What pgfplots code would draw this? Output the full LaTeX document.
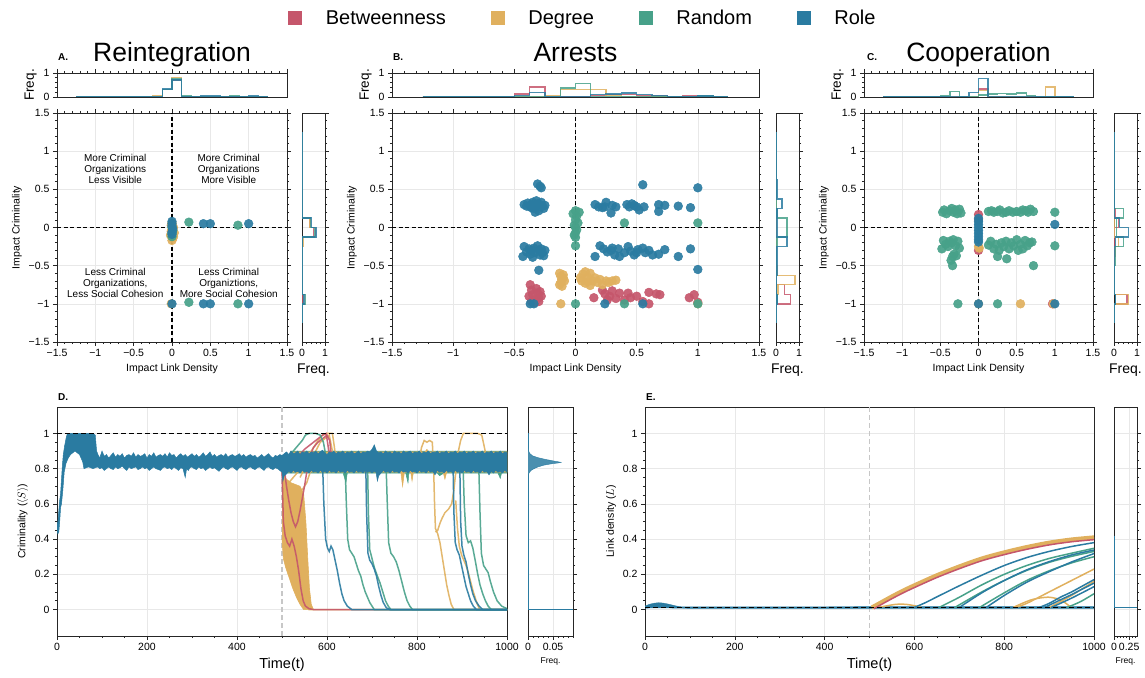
\documentclass[border=0pt]{standalone}
\usepackage{pgfplots}
\pgfplotsset{compat=1.18}
\usepackage{fontspec}
\setmainfont{Liberation Sans}
\definecolor{cB}{HTML}{C5566B}
\definecolor{cD}{HTML}{E0B05E}
\definecolor{cR}{HTML}{47A189}
\definecolor{cO}{HTML}{2A7BA1}
\newcommand{\fs}[1]{\fontsize{#1}{#1}\selectfont}
\pgfplotsset{
  base/.style={scale only axis, axis line style={black!85, line width=0.8pt},
    every tick/.style={black!85, line width=0.6pt}, major tick length=4pt, minor tick length=2.2pt,
    tick align=outside, tick label style={font=\fs{10.5}},
    label style={font=\fs{10.5}}, grid style={black!9, line width=0.6pt},
    scaled ticks=false, /pgf/number format/assume math mode=true},
  sc/.style={base, width=#1, height=229pt, xmin=-1.5,xmax=1.5,ymin=-1.5,ymax=1.5,
    xtick={-1.5,-1,-0.5,0,0.5,1,1.5}, ytick={-1.5,-1,-0.5,0,0.5,1,1.5},
    xticklabels={−1.5,−1,−0.5,0,0.5,1,1.5}, yticklabels={−1.5,−1,−0.5,0,0.5,1,1.5},
    minor x tick num=4, minor y tick num=4, tick pos=both, xmajorgrids, ymajorgrids,
    xlabel={Impact Link Density}, ylabel={Impact Criminality}},
  mt/.style={base, width=#1, height=24pt, xmin=-1.5,xmax=1.5,ymin=0,ymax=1,
    xtick={-1.5,-1,-0.5,0,0.5,1,1.5}, xticklabels={}, minor x tick num=4, xtick pos=right,
    ytick={0,1}, yticklabels={0,1}, minor y tick num=4, ytick pos=left,
    ylabel={Freq.}, ylabel style={font=\fs{13.5}}},
  mr/.style={base, width=23pt, height=229pt, xmin=0,xmax=1,ymin=-1.5,ymax=1.5,
    xtick={0,1}, xticklabels={0,1}, minor x tick num=4, xtick pos=left,
    ytick={-1.5,-1,-0.5,0,0.5,1,1.5}, yticklabels={}, minor y tick num=4, ytick pos=right, ymajorgrids,
    xlabel={Freq.}, xlabel style={font=\fs{14}}},
  ts/.style={base, width=#1, height=229pt, xmin=0,xmax=1000,ymin=-0.15,ymax=1.15,
    xtick={0,200,400,600,800,1000}, xticklabels={0,200,400,600,800,1000}, minor x tick num=3,
    ytick={0,0.2,0.4,0.6,0.8,1}, yticklabels={0,0.2,0.4,0.6,0.8,1}, minor y tick num=3,
    tick pos=left, xmajorgrids, ymajorgrids, xlabel={Time(t)}, xlabel style={font=\fs{14.5}}},
  tm/.style={base, width=#1, height=229pt, ymin=-0.15,ymax=1.15, xmin=0,
    ytick={0,0.2,0.4,0.6,0.8,1}, yticklabels={}, minor y tick num=3, ytick pos=right, xtick pos=left,
    minor x tick num=4, xmajorgrids, ymajorgrids, xlabel={Freq.}, xlabel style={font=\fs{8.5}}},
  dots/.style={only marks, mark=*, color=#1, mark size=4.4pt, mark options={draw=none, fill=#1, fill opacity=0.92}},
  hs/.style={color=#1, draw opacity=0.85, line width=1.4pt, const plot},
  hv/.style={color=#1, draw opacity=0.85, line width=1.4pt},
  zl/.style={black, line width=1.1pt, dash pattern=on 4pt off 2.5pt},
  ln/.style={color=#1, line width=1.5pt, draw opacity=0.9},
  cv/.style={color=#1, line width=1.5pt, smooth},
}
\begin{document}
\begin{tikzpicture}
\path[use as bounding box] (0pt,0pt) rectangle (1145pt,677pt);
% titles and panel letters
\node[font=\fs{26.5}, anchor=base] at (172pt,615pt) {Reintegration};
\node[font=\fs{26.5}, anchor=base] at (575.5pt,615pt) {Arrests};
\node[font=\fs{26.5}, anchor=base] at (978.5pt,615pt) {Cooperation};
\node[font=\bfseries\fs{10}, anchor=base west, inner sep=0pt] at (58pt,616pt) {A.};
\node[font=\bfseries\fs{10}, anchor=base west, inner sep=0pt] at (393pt,616pt) {B.};
\node[font=\bfseries\fs{10}, anchor=base west, inner sep=0pt] at (867pt,616pt) {C.};
\node[font=\bfseries\fs{10}, anchor=base west, inner sep=0pt] at (58pt,276pt) {D.};
\node[font=\bfseries\fs{10}, anchor=base west, inner sep=0pt] at (646pt,276pt) {E.};

%================ A =================
\begin{axis}[sc=230pt, at={(57pt,335pt)}, anchor=south west]
\addplot[zl] coordinates {(-1.5,0) (1.5,0)};
\addplot[zl] coordinates {(0,-1.5) (0,1.5)};
\addplot[dots=cB] coordinates {(0,0.02) (0,-0.05)};
\addplot[dots=cD] coordinates {(0,0.06) (-0.01,0.03) (0.02,0) (0,-0.03) (0.03,-0.07) (-0.02,-0.1) (0.01,-0.14) (0,-0.17) (0.02,-0.12) (-0.01,-0.05) (-0.01,-1)};
\addplot[dots=cR] coordinates {(0,0) (0.01,-0.04) (0,-0.12) (0,-0.08) (0.22,0.07) (0.86,0.03) (0.22,-0.98) (0.86,-1)};
\addplot[dots=cO] coordinates {(0,0.08) (0,0.05) (0,0.02) (0.01,-0.02) (0,-0.06) (0,-0.09) (0.41,0.05) (0.5,0.05) (1,0.05) (0,-1) (0.41,-1) (0.5,-1) (1,-1)};
\node[font=\fontsize{10}{11}\selectfont, align=center] at (axis cs:-0.74,0.77) {More Criminal\\Organizations\\Less Visible};
\node[font=\fontsize{10}{11}\selectfont, align=center] at (axis cs:0.74,0.77) {More Criminal\\Organizations\\More Visible};
\node[font=\fontsize{10}{11}\selectfont, align=center] at (axis cs:-0.74,-0.73) {Less Criminal\\Organizations,\\Less Social Cohesion};
\node[font=\fontsize{10}{11}\selectfont, align=center] at (axis cs:0.74,-0.73) {Less Criminal\\Organiztions,\\More Social Cohesion};
\end{axis}
\begin{axis}[mt=230pt, at={(57pt,580pt)}, anchor=south west]
\addplot[hs=cB] coordinates {(-1.25,0) (-0.125,0.3) (0,0.7) (0.125,0) (1.25,0)};
\addplot[hs=cD] coordinates {(-1.25,0) (-0.25,0.04) (-0.125,0.3) (0,0.82) (0.125,0) (1.25,0)};
\addplot[hs=cR] coordinates {(-1.25,0) (-0.125,0.3) (0,0.75) (0.125,0.04) (0.25,0) (0.75,0.04) (0.875,0) (1.25,0)};
\addplot[hs=cO] coordinates {(-1.25,0) (-0.125,0.34) (0,0.7) (0.125,0) (0.375,0.04) (0.625,0) (1,0.04) (1.125,0) (1.25,0)};
\end{axis}
\begin{axis}[mr, at={(302pt,335pt)}, anchor=south west]
\addplot[hv=cB] coordinates {(0,-1.25) (0,-0.125) (0.5,-0.125) (0.5,0) (0.35,0) (0.35,0.125) (0,0.125) (0,1.25)};
\addplot[hv=cD] coordinates {(0,-1.25) (0,-1) (0.06,-1) (0.06,-0.875) (0,-0.875) (0,-0.25) (0.05,-0.25) (0.05,-0.125) (0.58,-0.125) (0.58,0) (0.33,0) (0.33,0.125) (0,0.125) (0,1.25)};
\addplot[hv=cR] coordinates {(0,-1.25) (0,-1) (0.14,-1) (0.14,-0.875) (0,-0.875) (0,-0.125) (0.55,-0.125) (0.55,0) (0.38,0) (0.38,0.125) (0,0.125) (0,1.25)};
\addplot[hv=cO] coordinates {(0,-1.25) (0,-1) (0.09,-1) (0.09,-0.875) (0,-0.875) (0,-0.125) (0.6,-0.125) (0.6,0) (0.41,0) (0.41,0.125) (0,0.125) (0,1.25)};
\end{axis}

%================ B =================
\begin{axis}[sc=367pt, at={(392pt,335pt)}, anchor=south west,
  legend style={at={(0.5177,1.4148)}, anchor=center, draw=none, fill=none, font=\fs{20},
    nodes={inner sep=0pt},
    /tikz/every even column/.append style={column sep=45pt},
    /tikz/every odd column/.append style={column sep=24pt}},
  legend columns=4, legend cell align=left]
\addlegendimage{legend image code/.code={\fill[cB] (0pt,-6.5pt) rectangle (13pt,6.5pt);}}
\addlegendentry{Betweenness}
\addlegendimage{legend image code/.code={\fill[cD] (0pt,-6.5pt) rectangle (13pt,6.5pt);}}
\addlegendentry{Degree}
\addlegendimage{legend image code/.code={\fill[cR] (0pt,-6.5pt) rectangle (13pt,6.5pt);}}
\addlegendentry{Random}
\addlegendimage{legend image code/.code={\fill[cO] (0pt,-6.5pt) rectangle (13pt,6.5pt);}}
\addlegendentry{Role}
\addplot[zl, forget plot] coordinates {(-1.5,0) (1.5,0)};
\addplot[zl, forget plot] coordinates {(0,-1.5) (0,1.5)};
\addplot[dots=cB, forget plot] coordinates {(-0.37,-0.75) (-0.36,-0.82) (-0.35,-0.88) (-0.38,-0.9) (-0.34,-0.95) (-0.32,-0.8) (-0.31,-0.86) (-0.3,-0.92) (-0.29,-0.84) (-0.28,-0.9) (-0.33,-0.98) (-0.36,-0.97) (-0.3,-0.97)
 (0.15,-0.92) (0.22,-0.82) (0.24,-0.87) (0.26,-0.95) (0.28,-0.9) (0.3,-0.83) (0.33,-0.93) (0.36,-0.86) (0.4,-0.95) (0.43,-0.86) (0.45,-0.92) (0.5,-0.9) (0.55,-0.97) (0.6,-0.85) (0.6,-1) (0.66,-0.87) (0.69,-0.88) (0.93,-0.92) (0.97,-0.88) (1,-0.98)};
\addplot[dots=cD, forget plot] coordinates {(-0.13,-0.6) (-0.12,-0.64) (-0.11,-0.68) (-0.12,-0.72) (-0.1,-0.66) (-0.09,-0.7) (-0.13,-0.75) (-0.11,-0.77) (-0.1,-0.62)
 (0.06,-0.61) (0.08,-0.58) (0.1,-0.65) (0.12,-0.6) (0.14,-0.7) (0.05,-0.7) (0.08,-0.73) (0.16,-0.66) (0.18,-0.72) (0.2,-0.68) (0.22,-0.75) (0.25,-0.7) (0.27,-0.72) (0.3,-0.7) (0.33,-0.69) (0.12,-0.76) (0.04,-0.66) (0.1,-0.71) (-0.12,-1) (1,-1)};
\addplot[dots=cR, forget plot] coordinates {(0,0.22) (0.03,0.2) (-0.02,0.18) (0.01,0.15) (0,0.1) (0.02,0.06) (-0.01,0.03) (0,0) (0.01,-0.03) (0,-0.07) (-0.01,-0.1) (0,-0.13) (0,-0.24) (0.4,0.06) (1,0.06) (0,-1) (0.4,-1) (1,-1)};
\addplot[dots=cO, forget plot] coordinates {(-0.42,0.3) (-0.4,0.28) (-0.39,0.32) (-0.37,0.27) (-0.36,0.3) (-0.35,0.33) (-0.34,0.25) (-0.33,0.29) (-0.32,0.35) (-0.31,0.31) (-0.3,0.27) (-0.3,0.22) (-0.29,0.3) (-0.28,0.33) (-0.27,0.28) (-0.26,0.25) (-0.25,0.29) (-0.33,0.2) (-0.36,0.26) (-0.31,0.57) (-0.29,0.54) (-0.28,0.52)
 (0.16,0.3) (0.19,0.27) (0.22,0.26) (0.25,0.33) (0.24,0.27) (0.29,0.19) (0.3,0.29) (0.33,0.27) (0.42,0.3) (0.44,0.27) (0.46,0.31) (0.48,0.29) (0.5,0.27) (0.52,0.23) (0.56,0.27) (0.68,0.3) (0.68,0.21) (0.73,0.29) (0.84,0.28) (0.94,0.26) (0.55,0.56) (1,0.52)
 (-0.43,-0.38) (-0.42,-0.25) (-0.4,-0.32) (-0.38,-0.28) (-0.37,-0.35) (-0.36,-0.3) (-0.35,-0.39) (-0.34,-0.27) (-0.33,-0.33) (-0.31,-0.24) (-0.3,-0.3) (-0.29,-0.36) (-0.28,-0.28) (-0.27,-0.33) (-0.25,-0.3) (-0.26,-0.37) (-0.3,-0.56)
 (0.16,-0.38) (0.2,-0.24) (0.23,-0.28) (0.26,-0.32) (0.29,-0.3) (0.32,-0.36) (0.35,-0.28) (0.36,-0.38) (0.43,-0.25) (0.45,-0.31) (0.48,-0.36) (0.51,-0.29) (0.55,-0.27) (0.57,-0.33) (0.6,-0.3) (0.63,-0.36) (0.68,-0.35) (0.73,-0.29) (0.84,-0.38) (0.94,-0.28) (1,-0.55) (0.5,-0.33) (0.4,-0.33) (0.3,-0.27)
 (-0.37,-1) (-0.34,-1) (0.24,-1) (0.55,-1)};
\end{axis}
\begin{axis}[mt=367pt, at={(392pt,580pt)}, anchor=south west]
\addplot[hs=cB] coordinates {(-1.25,0) (-0.5,0.12) (-0.375,0.41) (-0.25,0) (0.125,0.05) (0.25,0.1) (0.5,0.05) (0.75,0) (0.875,0.05) (1,0.03) (1.125,0) (1.25,0)};
\addplot[hs=cD] coordinates {(-1.25,0) (-0.25,0.07) (-0.125,0.3) (0,0.3) (0.125,0.3) (0.25,0.07) (0.375,0) (1,0.02) (1.125,0) (1.25,0)};
\addplot[hs=cR] coordinates {(-1.25,0) (-0.125,0.37) (0,0.56) (0.125,0) (0.375,0.03) (0.5,0) (1,0.04) (1.125,0) (1.25,0)};
\addplot[hs=cO] coordinates {(-1.25,0) (-0.5,0.05) (-0.375,0.19) (-0.25,0) (0.125,0.1) (0.25,0.12) (0.375,0.17) (0.5,0.1) (0.625,0.05) (0.75,0.03) (0.875,0.02) (1,0.04) (1.125,0) (1.25,0)};
\end{axis}
\begin{axis}[mr, at={(776pt,335pt)}, anchor=south west]
\addplot[hv=cB] coordinates {(0,-1.25) (0,-1) (0.64,-1) (0.64,-0.875) (0.36,-0.875) (0.36,-0.75) (0,-0.75) (0,1.25)};
\addplot[hv=cD] coordinates {(0,-1.25) (0,-1) (0.05,-1) (0.05,-0.875) (0.08,-0.875) (0.08,-0.75) (0.83,-0.75) (0.83,-0.625) (0.05,-0.625) (0.05,-0.5) (0,-0.5) (0,1.25)};
\addplot[hv=cR] coordinates {(0,-1.25) (0,-1) (0.05,-1) (0.05,-0.875) (0,-0.875) (0,-0.25) (0.05,-0.25) (0.05,-0.125) (0.47,-0.125) (0.47,0.125) (0.05,0.125) (0.05,0.25) (0,0.25) (0,1.25)};
\addplot[hv=cO] coordinates {(0,-1.25) (0,-1) (0.05,-1) (0.05,-0.875) (0,-0.875) (0,-0.625) (0.05,-0.625) (0.05,-0.25) (0.47,-0.25) (0.47,-0.125) (0.05,-0.125) (0.05,0.25) (0.26,0.25) (0.26,0.375) (0.04,0.375) (0.04,0.625) (0,0.625) (0,1.25)};
\end{axis}

%================ C =================
\begin{axis}[sc=229pt, at={(864pt,335pt)}, anchor=south west]
\addplot[zl] coordinates {(-1.5,0) (1.5,0)};
\addplot[zl] coordinates {(0,-1.5) (0,1.5)};
\addplot[dots=cB] coordinates {(0,0.17) (0,0.1) (0,-0.3) (0.97,-1)};
\addplot[dots=cD] coordinates {(0,-0.25) (0.01,-0.27) (0,-1) (0.55,-1) (0.98,-1)};
\addplot[dots=cR] coordinates {(-0.47,0.2) (-0.45,0.23) (-0.42,0.18) (-0.38,0.22) (-0.35,0.25) (-0.33,0.2) (-0.3,0.23) (-0.28,0.18) (-0.25,0.24) (-0.23,0.19)
 (0.13,0.21) (0.17,0.22) (0.2,0.2) (0.25,0.21) (0.28,0.23) (0.32,0.19) (0.36,0.2) (0.4,0.22) (0.45,0.2) (0.5,0.21) (0.55,0.2) (0.58,0.23) (0.62,0.22) (0.65,0.2) (0.68,0.24) (0.72,0.21) (1,0.2)
 (-0.48,-0.28) (-0.46,-0.17) (-0.43,-0.22) (-0.4,-0.25) (-0.38,-0.18) (-0.35,-0.2) (-0.33,-0.16) (-0.3,-0.24) (-0.27,-0.18) (-0.25,-0.27) (-0.36,-0.43) (-0.34,-0.38) (-0.32,-0.35) (-0.29,-0.37) (-0.34,-0.5)
 (0.13,-0.23) (0.16,-0.18) (0.2,-0.28) (0.23,-0.22) (0.25,-0.38) (0.27,-0.3) (0.3,-0.2) (0.33,-0.25) (0.36,-0.18) (0.37,-0.41) (0.4,-0.28) (0.43,-0.2) (0.46,-0.24) (0.5,-0.16) (0.52,-0.3) (0.55,-0.22) (0.58,-0.28) (0.61,-0.17) (0.64,-0.24) (0.67,-0.2) (0.7,-0.19) (0.72,-0.5) (1,-0.24)
 (-0.27,-1) (0.25,-1)};
\addplot[dots=cO] coordinates {(0,0.12) (0,0.08) (0,0.04) (0,0) (0,-0.04) (0,-0.08) (0,-0.12) (0,-0.16) (0,-0.19) (1,0.04) (0,-1) (1,-1)};
\end{axis}
\begin{axis}[mt=229pt, at={(864pt,580pt)}, anchor=south west]
\addplot[hs=cB] coordinates {(-1.25,0) (0,0.34) (0.125,0) (0.875,0.03) (1,0) (1.25,0)};
\addplot[hs=cD] coordinates {(-1.25,0) (0,0.28) (0.125,0) (0.5,0.03) (0.625,0) (0.875,0.41) (1,0) (1.25,0)};
\addplot[hs=cR] coordinates {(-1.25,0) (-0.5,0.04) (-0.375,0.24) (-0.25,0.03) (-0.125,0) (0,0.08) (0.125,0.12) (0.25,0.15) (0.375,0.12) (0.5,0.17) (0.625,0.07) (0.75,0) (0.875,0.03) (1,0) (1.25,0)};
\addplot[hs=cO] coordinates {(-1.25,0) (-0.125,0.19) (0,0.78) (0.125,0) (1,0.03) (1.125,0) (1.25,0)};
\end{axis}
\begin{axis}[mr, at={(1114pt,335pt)}, anchor=south west]
\addplot[hv=cB] coordinates {(0,-1.25) (0,-1) (0.56,-1) (0.56,-0.875) (0,-0.875) (0,-0.375) (0.04,-0.375) (0.04,-0.25) (0,-0.25) (0,0) (0.2,0) (0.2,0.125) (0.05,0.125) (0.05,0.25) (0,0.25) (0,1.25)};
\addplot[hv=cD] coordinates {(0,-1.25) (0,-1) (0.64,-1) (0.64,-0.875) (0,-0.875) (0,-0.25) (0.2,-0.25) (0.2,-0.125) (0,-0.125) (0,1.25)};
\addplot[hv=cR] coordinates {(0,-1.25) (0,-1) (0.07,-1) (0.07,-0.875) (0,-0.875) (0,-0.5) (0.06,-0.5) (0.06,-0.25) (0.42,-0.25) (0.42,-0.125) (0.1,-0.125) (0.1,0.125) (0.42,0.125) (0.42,0.25) (0,0.25) (0,1.25)};
\addplot[hv=cO] coordinates {(0,-1.25) (0,-1) (0.06,-1) (0.06,-0.875) (0,-0.875) (0,-0.25) (0.06,-0.25) (0.06,-0.125) (0.64,-0.125) (0.64,0) (0.25,0) (0.25,0.125) (0,0.125) (0,1.25)};
\end{axis}

%================ D =================
\begin{axis}[ts=450pt, at={(57pt,41pt)}, anchor=south west, ylabel={Criminality ($\langle S\rangle$)}]
\addplot[black!22, line width=1.1pt, dash pattern=on 5pt off 3pt] coordinates {(500,-0.15) (500,1.15)};
% background bands post-intervention
\addplot[fill=cR, draw=cR, line width=0.5pt] coordinates {(500,0.8) (520,0.9) (1000,0.9)
 (1000,0.775) (988,0.775) (985,0.745) (980,0.775) (860,0.775) (850,0.76) (845,0.775) (782,0.775) (780,0.72) (775,0.775) (645,0.775) (642,0.72) (636,0.775) (510,0.775)};
\addplot[fill=cD, draw=cD, line width=0.5pt] coordinates {(500,0.8) (520,0.895) (818,0.895) (822,0.91) (826,0.895) (1000,0.895)
 (1000,0.78) (866,0.78) (862,0.74) (858,0.78) (792,0.78) (789,0.73) (786,0.78) (772,0.78) (768,0.7) (764,0.78) (510,0.78)};
% Degree trajectories
\addplot[fill=cD, draw=cD, line width=0.6pt] coordinates {(500,0.78) (510,0.74) (520,0.72) (530,0.71) (540,0.7) (548,0.66) (553,0.5) (557,0.3) (561,0.12) (565,0.03) (570,0) (548,0) (540,0.03) (532,0.07) (524,0.12) (516,0.18) (508,0.24) (503,0.29) (500,0.4)};
\addplot[ln=cD] coordinates {(500,0.8) (505,0.7) (515,0.65) (525,0.6) (535,0.5) (545,0.3) (552,0.1) (560,0) (1000,0)};
\addplot[ln=cD] coordinates {(505,0.74) (515,0.72) (525,0.75) (535,0.78) (545,0.8) (555,0.83)};
\addplot[ln=cD] coordinates {(540,0.75) (550,0.8) (560,0.88) (570,0.92) (580,0.96) (590,0.99) (600,1) (612,1) (616,0.93) (620,0.85)};
\addplot[ln=cD] coordinates {(545,0.68) (555,0.72) (565,0.8) (575,0.9) (585,0.95) (595,0.97) (605,0.99) (612,0.9) (618,0.84)};
\addplot[ln=cD] coordinates {(806,0.86) (810,0.92) (816,0.96) (822,0.95) (828,0.96) (834,0.95) (837,0.8) (839,0.6) (841,0.46) (846,0.43) (851,0.38) (856,0.3) (861,0.22) (866,0.14) (871,0.08) (876,0.03) (882,0) (1000,0)};
\addplot[ln=cD] coordinates {(841,0.44) (846,0.45) (851,0.49) (856,0.52) (862,0.55) (870,0.57) (877,0.6) (882,0.68) (887,0.8) (892,0.9) (897,0.96) (903,1) (915,1) (925,1) (935,1) (944,0.99) (949,0.93) (954,0.87) (960,0.84)};
\addplot[ln=cD] coordinates {(886,0.62) (890,0.46) (894,0.36) (899,0.31) (904,0.28) (909,0.25) (914,0.21) (919,0.16) (924,0.11) (929,0.07) (934,0.03) (940,0) (1000,0)};
% Betweenness
\addplot[ln=cB] coordinates {(505,0.8) (510,0.7) (515,0.62) (520,0.55) (525,0.5) (530,0.47) (535,0.5) (540,0.56) (545,0.63) (550,0.7) (555,0.78) (560,0.86) (570,0.92) (580,0.95) (590,0.97) (600,0.99) (606,0.96) (610,0.86) (615,0.83)};
\addplot[ln=cB] coordinates {(500,0.8) (503,0.5) (507,0.42) (512,0.38) (517,0.36) (522,0.4) (527,0.36) (532,0.3) (537,0.22) (542,0.12) (547,0.05) (552,0.02) (560,0.005) (570,0) (1000,0)};
\addplot[ln=cB] coordinates {(512,0.84) (520,0.8) (530,0.84) (540,0.88) (550,0.91) (560,0.93) (570,0.95) (580,0.97) (590,0.99) (598,1) (603,0.92) (608,0.85)};
% Random
\addplot[ln=cR] coordinates {(515,0.86) (525,0.9) (535,0.93) (545,0.96) (552,0.99) (560,1) (575,1) (585,0.99) (592,0.95) (597,0.88)};
\addplot[ln=cR] coordinates {(640,0.84) (643,0.6) (646,0.4) (650,0.34) (655,0.32) (660,0.3) (665,0.26) (670,0.22) (675,0.19) (680,0.14) (685,0.1) (690,0.07) (695,0.04) (700,0.02) (705,0) (1000,0)};
\addplot[ln=cR] coordinates {(690,0.84) (692,0.55) (695,0.34) (700,0.29) (705,0.24) (712,0.19) (718,0.15) (724,0.1) (730,0.05) (736,0.02) (742,0) (1000,0)};
\addplot[ln=cR] coordinates {(731,0.84) (734,0.6) (737,0.38) (742,0.32) (748,0.3) (754,0.27) (760,0.22) (766,0.16) (772,0.1) (778,0.05) (784,0.02) (790,0) (1000,0)};
\addplot[ln=cR] coordinates {(902,0.84) (905,0.6) (909,0.42) (914,0.38) (919,0.39) (924,0.35) (930,0.27) (935,0.2) (940,0.14) (946,0.09) (952,0.05) (958,0.02) (965,0) (1000,0)};
\addplot[ln=cR] coordinates {(937,0.84) (940,0.55) (943,0.32) (948,0.25) (953,0.23) (958,0.21) (963,0.16) (970,0.1) (978,0.05) (988,0.02) (1000,0.005)};
% Role
\addplot[ln=cO] coordinates {(590,0.84) (593,0.6) (597,0.4) (601,0.35) (605,0.33) (609,0.36) (613,0.34) (618,0.28) (623,0.22) (628,0.15) (633,0.09) (638,0.05) (645,0.02) (655,0) (1000,0)};
\addplot[ln=cO] coordinates {(686,0.84) (688,0.55) (691,0.32) (695,0.28) (700,0.26) (705,0.23) (710,0.19) (715,0.13) (720,0.08) (725,0.04) (732,0.01) (740,0) (1000,0)};
\addplot[ln=cO] coordinates {(880,0.84) (882,0.55) (885,0.38) (889,0.34) (894,0.31) (899,0.25) (904,0.19) (909,0.13) (914,0.09) (919,0.05) (925,0.02) (932,0) (1000,0)};
\addplot[ln=cO] coordinates {(895,0.84) (897,0.5) (900,0.36) (904,0.31) (909,0.27) (914,0.2) (919,0.14) (924,0.09) (930,0.05) (938,0.02) (946,0) (1000,0)};
% Role band (all runs)
\addplot[fill=cO, draw=cO, line width=0.5pt] coordinates {(0,0.48) (2,0.5) (4,0.56) (6,0.62) (8,0.66) (10,0.74) (12,0.82) (14,0.88) (17,0.93) (20,0.97) (23,1) (40,1) (55,1) (70,1) (80,1) (85,0.99) (88,0.9) (91,0.88)
 (95,0.86) (100,0.9) (105,0.87) (110,0.88) (115,0.86) (120,0.875) (125,0.89) (130,0.865) (135,0.88) (140,0.87) (145,0.885) (150,0.86) (155,0.875) (160,0.88) (165,0.87) (170,0.89) (175,0.865) (180,0.88) (185,0.87) (190,0.875) (195,0.885) (200,0.86) (205,0.88) (210,0.87) (215,0.89) (220,0.865) (225,0.875) (230,0.88) (235,0.87) (240,0.885) (245,0.865) (250,0.89) (255,0.875) (260,0.88) (265,0.86) (270,0.875) (275,0.885) (280,0.87) (285,0.88) (290,0.865) (295,0.875) (300,0.885) (305,0.87) (310,0.88) (315,0.865) (320,0.875) (325,0.89) (330,0.87) (335,0.88) (340,0.895) (345,0.87) (350,0.88) (355,0.865) (360,0.875) (365,0.88) (370,0.87) (375,0.885) (380,0.865) (385,0.875) (390,0.88) (395,0.87) (400,0.875) (405,0.885) (410,0.87) (415,0.88) (420,0.865) (425,0.875) (430,0.88) (435,0.87) (440,0.875) (445,0.86) (450,0.87) (455,0.88) (460,0.865) (465,0.875) (470,0.885) (475,0.87) (480,0.86) (485,0.875) (490,0.87) (495,0.88) (500,0.875)
 (505,0.885) (510,0.895) (515,0.88) (520,0.9) (525,0.885) (530,0.89) (535,0.9) (540,0.88) (545,0.895) (550,0.89) (555,0.9) (560,0.885) (565,0.895) (570,0.89) (575,0.9) (580,0.885) (585,0.895) (590,0.905) (595,0.89) (600,0.88) (605,0.895) (610,0.89) (615,0.9) (620,0.885) (625,0.895) (630,0.89) (635,0.9) (640,0.885) (645,0.895) (650,0.89) (655,0.9) (660,0.885) (665,0.89) (670,0.9) (675,0.885) (680,0.895) (685,0.89) (690,0.9) (695,0.895) (700,0.91) (705,0.935) (710,0.9) (715,0.89) (720,0.895) (725,0.885) (730,0.9) (735,0.89) (740,0.895) (745,0.885) (750,0.9) (755,0.89) (760,0.895) (765,0.885) (770,0.9) (775,0.89) (780,0.895) (785,0.9) (790,0.885) (795,0.895) (800,0.89) (805,0.9) (810,0.885) (815,0.895) (820,0.89) (825,0.9) (830,0.885) (835,0.895) (840,0.89) (845,0.9) (850,0.885) (855,0.895) (860,0.89) (865,0.9) (870,0.885) (875,0.895) (880,0.89) (885,0.9) (890,0.885) (895,0.895) (900,0.89) (905,0.9) (910,0.885) (915,0.895) (920,0.89) (925,0.9) (930,0.885) (935,0.895) (940,0.89) (945,0.9) (950,0.885) (955,0.895) (960,0.89) (965,0.9) (970,0.885) (975,0.895) (980,0.89) (985,0.9) (990,0.885) (995,0.895) (1000,0.89)
 (1000,0.78) (995,0.79) (990,0.775) (985,0.785) (980,0.78) (975,0.79) (970,0.775) (965,0.785) (960,0.765) (955,0.785) (950,0.78) (945,0.79) (940,0.775) (935,0.785) (930,0.78) (925,0.79) (920,0.775) (915,0.785) (910,0.78) (905,0.79) (900,0.775) (895,0.785) (890,0.78) (885,0.79) (880,0.775) (875,0.785) (870,0.78) (865,0.79) (860,0.775) (855,0.785) (850,0.78) (845,0.79) (840,0.765) (835,0.785) (830,0.78) (825,0.79) (820,0.775) (815,0.785) (810,0.78) (805,0.79) (800,0.775) (795,0.785) (790,0.78) (785,0.79) (780,0.775) (775,0.785) (770,0.78) (765,0.79) (760,0.775) (755,0.785) (750,0.78) (745,0.79) (740,0.775) (735,0.785) (730,0.78) (725,0.79) (720,0.775) (715,0.76) (712,0.73) (709,0.78) (705,0.785) (700,0.775) (695,0.785) (690,0.78) (685,0.79) (680,0.775) (675,0.785) (670,0.78) (665,0.79) (660,0.775) (655,0.785) (650,0.78) (645,0.79) (640,0.775) (635,0.785) (630,0.78) (625,0.79) (620,0.775) (615,0.785) (610,0.78) (605,0.79) (600,0.775) (595,0.785) (590,0.78) (585,0.79) (580,0.775) (575,0.785) (570,0.78) (565,0.79) (560,0.775) (555,0.785) (550,0.78) (545,0.79) (540,0.775) (535,0.785) (530,0.78) (525,0.79) (520,0.775) (515,0.785) (510,0.77) (505,0.76) (502,0.73) (500,0.78)
 (495,0.79) (490,0.8) (485,0.805) (480,0.795) (475,0.8) (470,0.81) (465,0.805) (460,0.79) (455,0.8) (450,0.81) (445,0.805) (440,0.795) (435,0.8) (430,0.81) (425,0.805) (420,0.795) (415,0.8) (410,0.81) (405,0.805) (400,0.79) (395,0.8) (390,0.81) (385,0.805) (380,0.795) (375,0.8) (370,0.81) (365,0.8) (360,0.785) (355,0.795) (350,0.805) (345,0.8) (340,0.81) (335,0.8) (330,0.79) (325,0.805) (320,0.8) (315,0.81) (310,0.795) (305,0.8) (300,0.81) (295,0.805) (292,0.79) (288,0.8) (285,0.75) (280,0.8) (275,0.805) (270,0.79) (265,0.8) (260,0.81) (255,0.795) (250,0.805) (245,0.8) (240,0.81) (235,0.805) (230,0.79) (225,0.795) (220,0.8) (215,0.81) (210,0.8) (205,0.79) (200,0.805) (195,0.8) (190,0.81) (185,0.8) (180,0.795) (175,0.81) (170,0.805) (165,0.8) (160,0.81) (155,0.79) (150,0.8) (145,0.815) (140,0.805) (135,0.8) (130,0.81) (125,0.795) (120,0.8) (115,0.81) (110,0.8) (105,0.79) (100,0.805) (95,0.8) (90,0.81)
 (80,0.8) (70,0.81) (60,0.8) (57,0.84) (50,0.88) (40,0.9) (30,0.88) (25,0.86) (20,0.83) (16,0.78) (13,0.68) (10,0.6) (8,0.58) (6,0.5) (4,0.44) (2,0.43) (0,0.45)};
\addplot[black, line width=1.3pt, dash pattern=on 5pt off 3pt] coordinates {(0,1) (1000,1)};
\end{axis}
\begin{axis}[tm=45pt, at={(528pt,41pt)}, anchor=south west, xmax=0.09, xtick={0,0.05,0.1}, xticklabels={0,0.05,0.1}]
\addplot[cO, line width=0.6pt] coordinates {(0,0) (0,1)};
\addplot[fill=cO!85!white, draw=cO, line width=0.4pt] coordinates {(0,0.76) (0.002,0.775) (0.006,0.79) (0.012,0.8) (0.02,0.81) (0.032,0.82) (0.048,0.828) (0.062,0.833) (0.066,0.836) (0.052,0.843) (0.034,0.853) (0.019,0.863) (0.009,0.873) (0.004,0.885) (0.001,0.9) (0,0.92)};
\addplot[cO, line width=1.2pt] coordinates {(0,0) (0.09,0)};
\end{axis}

%================ E =================
\begin{axis}[ts=449pt, at={(645pt,41pt)}, anchor=south west, ylabel={Link density ($L$)}]
\addplot[black!22, line width=1.1pt, dash pattern=on 5pt off 3pt] coordinates {(500,-0.15) (500,1.15)};
\addplot[fill=cO, draw=cO, line width=0.4pt] coordinates {(0,0.02) (10,0.03) (20,0.036) (30,0.039) (40,0.037) (50,0.032) (60,0.026) (70,0.02) (80,0.016) (200,0.016) (400,0.016) (600,0.017) (800,0.017) (1000,0.017) (1000,0.007) (500,0.007) (100,0.007) (70,0.008) (40,0.01) (20,0.01) (0,0.008)};
\addplot[cv=cD, line width=4pt] coordinates {(505,0.012) (525,0.04) (550,0.075) (575,0.108) (600,0.138) (650,0.195) (700,0.245) (750,0.29) (800,0.325) (850,0.355) (900,0.38) (950,0.398) (1000,0.41)};
\addplot[cv=cB] coordinates {(510,0.005) (525,0.027) (550,0.062) (575,0.095) (600,0.125) (650,0.182) (700,0.232) (750,0.277) (800,0.312) (850,0.342) (900,0.367) (950,0.385) (1000,0.397)};
\addplot[cv=cD] coordinates {(520,0.012) (540,0.022) (560,0.03) (580,0.03) (600,0.022) (615,0.012)};
\addplot[cv=cD] coordinates {(820,0.012) (840,0.035) (860,0.055) (880,0.066) (900,0.07) (920,0.06) (935,0.04) (945,0.02) (950,0.012)};
\addplot[cv=cD] coordinates {(825,0.012) (850,0.035) (900,0.1) (950,0.165) (1000,0.23)};
\addplot[cv=cD] coordinates {(900,0.012) (925,0.045) (950,0.08) (975,0.12) (1000,0.16)};
\addplot[cv=cR] coordinates {(655,0.012) (700,0.07) (750,0.14) (800,0.2) (850,0.25) (900,0.29) (950,0.32) (1000,0.348)};
\addplot[cv=cR] coordinates {(690,0.012) (750,0.1) (800,0.165) (850,0.222) (900,0.268) (950,0.302) (1000,0.33)};
\addplot[cv=cR] coordinates {(745,0.012) (800,0.095) (850,0.165) (900,0.22) (950,0.265) (1000,0.3)};
\addplot[cv=cR] coordinates {(940,0.012) (970,0.045) (1000,0.09)};
\addplot[cv=cO] coordinates {(600,0.012) (625,0.04) (650,0.072) (700,0.135) (750,0.195) (800,0.25) (850,0.295) (900,0.33) (950,0.358) (1000,0.38)};
\addplot[cv=cO] coordinates {(700,0.012) (750,0.095) (800,0.165) (850,0.225) (900,0.272) (950,0.31) (1000,0.338)};
\addplot[cv=cO] coordinates {(760,0.012) (800,0.08) (850,0.155) (900,0.215) (950,0.27) (1000,0.318)};
\addplot[cv=cO] coordinates {(878,0.012) (900,0.035) (925,0.07) (950,0.1) (975,0.135) (1000,0.17)};
\addplot[cv=cO] coordinates {(890,0.012) (925,0.055) (950,0.085) (975,0.118) (1000,0.15)};
\addplot[cv=cO] coordinates {(905,0.012) (950,0.065) (1000,0.13)};
\addplot[black, line width=1.3pt, dash pattern=on 5pt off 3pt] coordinates {(0,0.012) (1000,0.012)};
\end{axis}
\begin{axis}[tm=23pt, at={(1114pt,41pt)}, anchor=south west, xmax=0.38, xtick={0,0.25,0.5}, xticklabels={0,0.25,0.5}]
\addplot[cO, line width=1.2pt] coordinates {(0,0.42) (0,0.012) (0.38,0.012)};
\end{axis}
\end{tikzpicture}
\end{document}
